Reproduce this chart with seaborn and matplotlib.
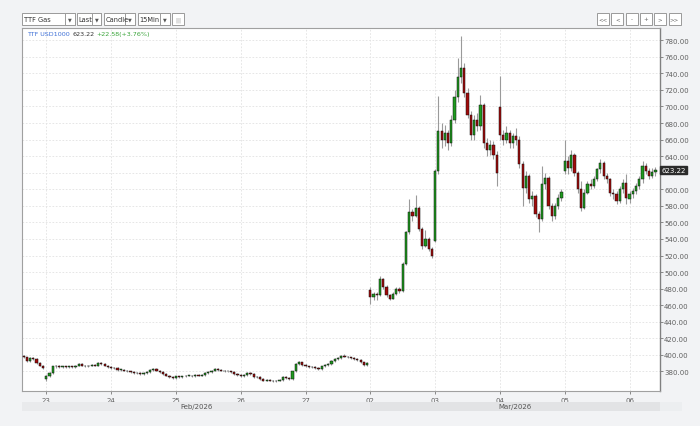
import matplotlib
matplotlib.use("Agg")
import matplotlib.pyplot as plt
from matplotlib.patches import Rectangle
import numpy as np
import pandas as pd
import seaborn as sns

# 15-minute candles per trading day, (open, high, low, close)
feb20 = [(399, 400, 396, 397), (397, 398, 392, 393), (393, 397, 392, 396), (396, 397, 394, 395),
         (395, 396, 389, 390), (390, 391, 386, 387), (387, 388, 383, 384)]
feb23 = [(371, 376, 369, 375), (375, 379, 373, 378), (378, 387, 377, 386), (386, 388, 384, 387),
         (387, 388, 384, 385), (385, 387, 384, 386), (386, 387, 384, 385), (385, 387, 384, 386),
         (386, 387, 384, 385), (385, 388, 384, 387), (387, 390, 386, 389), (389, 390, 386, 387),
         (387, 388, 385, 386), (386, 388, 385, 387), (387, 389, 386, 388), (388, 389, 386, 387),
         (387, 391, 386, 390), (390, 391, 388, 389), (389, 390, 386, 387), (387, 388, 384, 385)]
feb24 = [(385, 386, 383, 384), (384, 385, 383, 384), (384, 385, 381, 382), (382, 383, 381, 382),
         (382, 383, 380, 381), (381, 382, 379, 380), (380, 381, 378, 379), (379, 380, 377, 378),
         (378, 379, 377, 378), (378, 379, 376, 377), (377, 379, 376, 378), (378, 380, 377, 379),
         (379, 383, 378, 382), (382, 384, 381, 383), (383, 384, 380, 381), (381, 382, 378, 379),
         (379, 380, 376, 377), (377, 378, 374, 375), (375, 376, 372, 373), (373, 374, 371, 372)]
feb25 = [(372, 375, 371, 374), (374, 375, 372, 373), (373, 375, 372, 374), (374, 376, 373, 375),
         (375, 376, 374, 375), (375, 376, 373, 374), (374, 377, 373, 376), (376, 377, 374, 375),
         (375, 377, 374, 376), (376, 379, 375, 378), (378, 380, 377, 379), (379, 382, 378, 381),
         (381, 384, 380, 383), (383, 384, 381, 382), (382, 383, 380, 381), (381, 382, 379, 380),
         (380, 381, 379, 380), (380, 381, 378, 379), (379, 380, 376, 377), (377, 378, 375, 376)]
feb26 = [(376, 377, 373, 374), (374, 377, 373, 376), (376, 379, 375, 378), (378, 379, 376, 377),
         (377, 378, 372, 373), (373, 374, 372, 373), (373, 374, 370, 371), (371, 372, 368, 369),
         (369, 371, 368, 370), (370, 371, 368, 369), (369, 370, 367, 368), (368, 370, 367, 369),
         (369, 371, 368, 370), (370, 374, 369, 373), (373, 374, 371, 372), (372, 373, 370, 371),
         (371, 381, 370, 380), (380, 390, 379, 389), (389, 393, 388, 391), (391, 392, 387, 388)]
feb27 = [(388, 389, 385, 386), (386, 387, 384, 385), (385, 386, 384, 385), (385, 386, 383, 384),
         (384, 385, 382, 383), (383, 387, 382, 386), (386, 389, 385, 388), (388, 390, 387, 389),
         (389, 394, 388, 393), (393, 396, 392, 395), (395, 397, 394, 396), (396, 400, 395, 399),
         (399, 401, 397, 398), (398, 399, 396, 397), (397, 398, 395, 396), (396, 397, 394, 395),
         (395, 396, 393, 394), (394, 395, 390, 391), (391, 392, 387, 388), (388, 391, 387, 390)]
mar02 = [(478, 482, 461, 470), (470, 476, 466, 474), (474, 476, 466, 472), (472, 495, 471, 492),
         (492, 493, 480, 482), (482, 484, 470, 472), (472, 474, 466, 468), (468, 476, 467, 474),
         (474, 482, 472, 480), (480, 482, 475, 477), (477, 512, 476, 510), (510, 550, 508, 548),
         (548, 588, 546, 572), (572, 576, 562, 568), (568, 593, 566, 578), (578, 580, 550, 552),
         (552, 554, 528, 532), (532, 551, 530, 540), (540, 542, 526, 528), (528, 530, 517, 520)]
mar03 = [(538, 624, 536, 622), (622, 713, 618, 670), (670, 680, 650, 660), (660, 678, 652, 668),
         (668, 672, 648, 656), (656, 690, 652, 684), (684, 720, 680, 712), (712, 759, 706, 736),
         (736, 785, 728, 746), (746, 752, 712, 716), (716, 722, 686, 690), (690, 694, 660, 666),
         (666, 690, 660, 684), (684, 692, 670, 676), (676, 714, 672, 702), (702, 704, 650, 656),
         (656, 662, 640, 648), (648, 660, 642, 654), (654, 658, 636, 642), (642, 646, 604, 620)]
mar04 = [(699, 737, 660, 665), (665, 672, 654, 660), (660, 677, 656, 668), (668, 672, 650, 656),
         (656, 668, 650, 664), (664, 674, 654, 660), (660, 664, 626, 630), (630, 634, 580, 602),
         (602, 622, 596, 616), (616, 618, 584, 588), (588, 598, 580, 592), (592, 594, 566, 570),
         (570, 574, 548, 564), (564, 628, 562, 606), (606, 620, 600, 614), (614, 616, 576, 580),
         (580, 584, 562, 568), (568, 584, 564, 580), (580, 594, 576, 590), (590, 600, 586, 597)]
mar05 = [(622, 659, 618, 634), (634, 640, 618, 626), (626, 648, 622, 642), (642, 644, 616, 620),
         (620, 622, 596, 600), (600, 610, 574, 578), (578, 600, 576, 596), (596, 610, 594, 606),
         (606, 612, 600, 604), (604, 616, 602, 612), (612, 626, 610, 624), (624, 636, 620, 632),
         (632, 634, 612, 616), (616, 620, 608, 612), (612, 614, 592, 596), (596, 600, 588, 594),
         (594, 598, 582, 586), (586, 604, 584, 600), (600, 612, 596, 608), (608, 618, 582, 590)]
mar06 = [(588, 598, 584, 594), (594, 602, 590, 598), (598, 608, 594, 604), (604, 616, 600, 612),
         (612, 634, 608, 628), (628, 632, 618, 622), (622, 626, 612, 616), (616, 626, 614, 621),
         (621, 627, 616, 623.22)]

days = [("20", feb20), ("23", feb23), ("24", feb24), ("25", feb25), ("26", feb26),
        ("27", feb27), ("02", mar02), ("03", mar03), ("04", mar04), ("05", mar05), ("06", mar06)]
y_ticks = list(range(380, 781, 20))
instrument = "TTF USD1000"
last_price = "623.22"
change_text = "+22.58(+3.76%)"

W, H = 700, 427

rows = []
day_starts = {}
for label, candles in days:
    day_starts[label] = len(rows)
    rows.extend(candles)
df = pd.DataFrame(rows, columns=["open", "high", "low", "close"])
df["i"] = np.arange(len(df))
df["up"] = df["close"] >= df["open"]

sns.set_theme(style="white")
plt.rcParams["font.family"] = ["DejaVu Sans"]

fig = plt.figure(figsize=(W / 100, H / 100), dpi=100, facecolor="#f2f3f5")
ax = fig.add_axes([22 / W, 1 - 392 / H, (660 - 22) / W, (392 - 29) / H])
ax.set_facecolor("white")

ax.set_xlim(-0.5, 196.4)
ax.set_ylim(356.4, 794.8)

# grid
for y in y_ticks:
    ax.axhline(y, color="#e2e2e2", lw=0.6, ls=(0, (2, 2)), zorder=0)
tick_pos = [day_starts[l] for l, _ in days[1:]]
tick_lab = [l for l, _ in days[1:]]
for x in tick_pos:
    ax.axvline(x, color="#e2e2e2", lw=0.6, ls=(0, (2, 2)), zorder=0)

# candles: gray wicks, outlined bodies
ax.vlines(df["i"], df["low"], df["high"], color="#9a9a9a", lw=0.8, zorder=2)
body_lo = df[["open", "close"]].min(axis=1)
body_h = (df["close"] - df["open"]).abs().clip(lower=0.6)
colors = np.where(df["up"], "#1e9a1e", "#a00a0a")
ax.bar(df["i"], body_h, bottom=body_lo, width=0.68, color=colors,
       edgecolor="#111111", linewidth=0.35, zorder=3)

# axes styling
for s in ["left", "top", "bottom"]:
    ax.spines[s].set_color("#a0a0a0")
    ax.spines[s].set_linewidth(0.8)
ax.spines["right"].set_color("#808080")
ax.spines["right"].set_linewidth(1.0)
ax.yaxis.tick_right()
ax.set_yticks(y_ticks)
ax.set_yticklabels([f"{v:.2f}" for v in y_ticks])
ax.set_xticks(tick_pos)
ax.set_xticklabels(tick_lab)
ax.tick_params(axis="y", right=True, length=2, width=0.6, color="#777777",
               labelsize=5, labelcolor="#606060", pad=1)
ax.tick_params(axis="x", bottom=True, length=2, width=0.6, color="#777777",
               labelsize=5, labelcolor="#606060", pad=2.5)
ax.grid(False)

# hide the tick label that sits under the last-price marker
for lbl, v in zip(ax.get_yticklabels(), y_ticks):
    if v == 620:
        lbl.set_visible(False)

# last price marker on the price scale
ax.text(1.002, 623.22, last_price, transform=ax.get_yaxis_transform(),
        ha="left", va="center", fontsize=5, color="white",
        bbox=dict(boxstyle="square,pad=0.15", fc="#2b2b2b", ec="#2b2b2b"), zorder=5)


def fx(px):
    return px / W


def fy(py):
    return 1 - py / H


# header info text, chained left to right
t1 = fig.text(fx(27.5), fy(34.5), instrument, fontsize=4.6, color="#3d6fd6", va="center")
t2 = fig.add_artist(plt.Annotation(last_price, xy=(1, 0.5), xycoords=t1, xytext=(1.5, 0),
                                   textcoords="offset points", fontsize=4.6, color="#333333",
                                   va="center"))
fig.add_artist(plt.Annotation(change_text, xy=(1, 0.5), xycoords=t2, xytext=(1.2, 0),
                              textcoords="offset points", fontsize=4.6, color="#3aa43a",
                              va="center"))


def box(x0, y0, x1, y1, fc="white", ec="#9a9a9a"):
    fig.add_artist(Rectangle((fx(x0), fy(y1)), fx(x1 - x0), (y1 - y0) / H,
                             transform=fig.transFigure, fc=fc, ec=ec, lw=0.7))


# toolbar drop-downs
for x0, x1, arrow_x, label in [(22, 75, 65, "TTF Gas"), (77, 101, 92, "Last"),
                               (104, 135, 125, "Candle"), (138, 170, 160, "15Min")]:
    box(x0, 13.5, x1, 26)
    box(arrow_x, 13.5, x1, 26)
    fig.text(fx(x0 + 1.5), fy(20), label, fontsize=4.8, color="#333333", va="center")
    fig.text(fx((arrow_x + x1) / 2), fy(20), "\u25bc", fontsize=3.5, color="#555555",
             ha="center", va="center")
box(172, 13.5, 184, 26)
fig.text(fx(178), fy(20), "|||", fontsize=4, color="#888888", ha="center", va="center")

# navigation buttons
for k, lab in enumerate(["<<", "<", "-", "+", ">", ">>"]):
    x0 = 597 + k * 14.3
    box(x0, 13.5, x0 + 12, 25.7)
    fig.text(fx(x0 + 6), fy(19.6), lab, fontsize=4, color="#666666", ha="center", va="center")

# month bands
mar_x = 22 + (day_starts["02"] + 0.5) / (196.4 + 0.5) * (660 - 22)
fig.add_artist(Rectangle((fx(22), fy(411.7)), fx(mar_x - 22), 9 / H,
                         transform=fig.transFigure, fc="#e9eaec", ec="none"))
fig.add_artist(Rectangle((fx(mar_x), fy(411.7)), fx(660 - mar_x), 9 / H,
                         transform=fig.transFigure, fc="#e2e3e5", ec="none"))
fig.add_artist(Rectangle((fx(660), fy(411.7)), fx(682 - 660), 9 / H,
                         transform=fig.transFigure, fc="#eceef0", ec="none"))
fig.text(fx((22 + mar_x) / 2), fy(407.2), "Feb/2026", fontsize=5, color="#555555",
         ha="center", va="center")
fig.text(fx((mar_x + 660) / 2), fy(407.2), "Mar/2026", fontsize=5, color="#555555",
         ha="center", va="center")

fig.savefig("out.png", dpi=100, facecolor=fig.get_facecolor())
